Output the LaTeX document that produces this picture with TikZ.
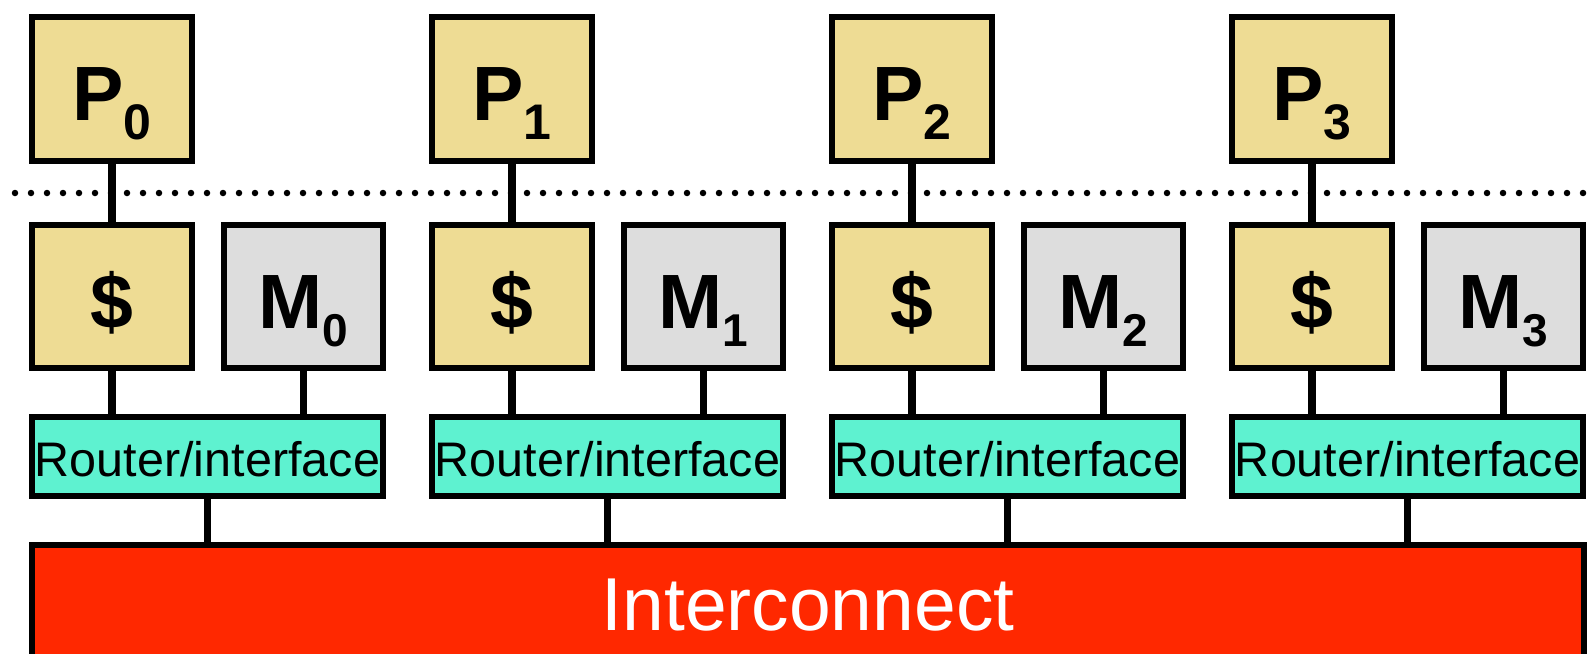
\documentclass[tikz,border=0pt]{standalone}
\usepackage{fontspec}
\setmainfont{Liberation Sans}
\definecolor{khaki}{HTML}{EEDC94}
\definecolor{memgray}{HTML}{DDDDDD}
\definecolor{routercol}{HTML}{5EF2D0}
\definecolor{icred}{HTML}{FF2800}
\newcommand{\psub}[1]{\raisebox{-19pt}{\fontsize{50}{50}\selectfont\bfseries #1}}
\newcommand{\msub}[1]{\raisebox{-18pt}{\fontsize{46}{46}\selectfont\bfseries #1}}
\begin{document}
\begin{tikzpicture}[x=1pt,y=-1pt,
  box/.style={draw=black, line width=6pt, rectangle, inner sep=0pt, outer sep=0pt},
  big/.style={font=\fontsize{77}{77}\selectfont\bfseries, text height=62pt, text depth=0pt},
  pbox/.style={box, big, fill=khaki, minimum width=160pt, minimum height=144pt},
  cbox/.style={box, big, fill=khaki, minimum width=160pt, minimum height=143pt, text height=63pt},
  mbox/.style={box, big, fill=memgray, minimum width=159pt, minimum height=143pt, text height=63pt},
  rbox/.style={box, fill=routercol, minimum width=351pt, minimum height=79pt,
    font=\fontsize{48.5}{50}\selectfont, text height=40pt, text depth=0pt},
  icbox/.style={box, fill=icred, text=white, minimum width=1552pt, minimum height=116pt,
    font=\fontsize{75}{75}\selectfont, text height=54pt, text depth=0pt},
  link/.style={line width=7.5pt},
  sep/.style={line width=6.5pt, line cap=round, dash pattern=on 0pt off 16pt}]
\useasboundingbox (0,0) rectangle (1595,653);
\clip (0,0) rectangle (1595,653);
\coordinate (sepL) at (15,193);
\coordinate (sepR) at (1600,193);
\draw[sep] (sepL) -- (sepR);
\node[icbox] (IC) at (808,603) {Interconnect};
\foreach \i in {0,...,3}{
  \pgfmathsetmacro{\ox}{400*\i}
  \node[pbox] (P\i) at (112+\ox,89) {P\psub{\i}};
  \node[cbox] (C\i) at (112+\ox,296.5) {\$};
  \node[mbox] (M\i) at (303.5+\ox,296.5) {M\msub{\i}};
  \node[rbox] (R\i) at (207.5+\ox,456.5) {Router/interface};
  \draw[link] (P\i.south) -- (C\i.north);
  \draw[link] (C\i.south) -- (C\i.south |- R\i.north);
  \draw[link] (M\i.south) -- (M\i.south |- R\i.north);
  \draw[link] (R\i.south) -- (R\i.south |- IC.north);
}
\end{tikzpicture}
\end{document}
